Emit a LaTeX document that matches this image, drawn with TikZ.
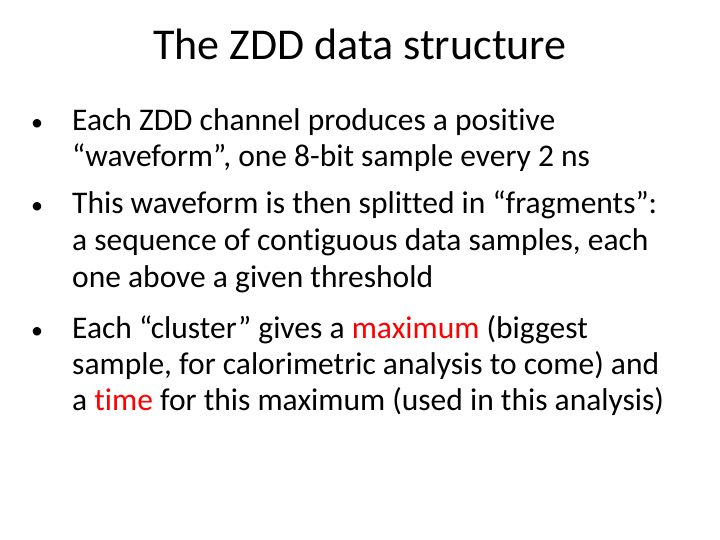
\documentclass[tikz,border=0pt]{standalone}
\usepackage{fontspec}
\setmainfont[Ligatures=NoCommon]{Carlito}
\definecolor{hl}{RGB}{255,0,0}
\begin{document}
\begin{tikzpicture}[x=1pt,y=1pt,
  line/.style={anchor=base west,inner sep=0pt,font=\fontsize{31.5}{36}\selectfont},
  bul/.style={anchor=base west,inner sep=0pt,font=\fontsize{24}{30}\selectfont}]
\useasboundingbox (0,0) rectangle (720,-540);
\node[anchor=base,inner sep=0pt,font=\fontsize{44}{52}\selectfont] (title) at (360,-60) {The ZDD data structure};
\node[bul] (b1) at (31,-131) {•};
\node[line] (l1) at (72,-131) {Each ZDD channel produces a positive};
\node[line] (l2) at (72,-167) {“waveform”, one 8-bit sample every 2 ns};
\node[bul] (b2) at (31,-214) {•};
\node[line] (l3) at (72,-214) {This waveform is then splitted in “fragments”:};
\node[line] (l4) at (72,-250) {a sequence of contiguous data samples, each};
\node[line] (l5) at (72,-287) {one above a given threshold};
\node[bul] (b3) at (31,-338) {•};
\node[line] (l6) at (72,-338) {Each “cluster” gives a \textcolor{hl}{maximum} (biggest};
\node[line] (l7) at (72,-374) {sample, for calorimetric analysis to come) and};
\node[line] (l8) at (72,-410) {a \textcolor{hl}{time} for this maximum (used in this analysis)};
\end{tikzpicture}
\end{document}
